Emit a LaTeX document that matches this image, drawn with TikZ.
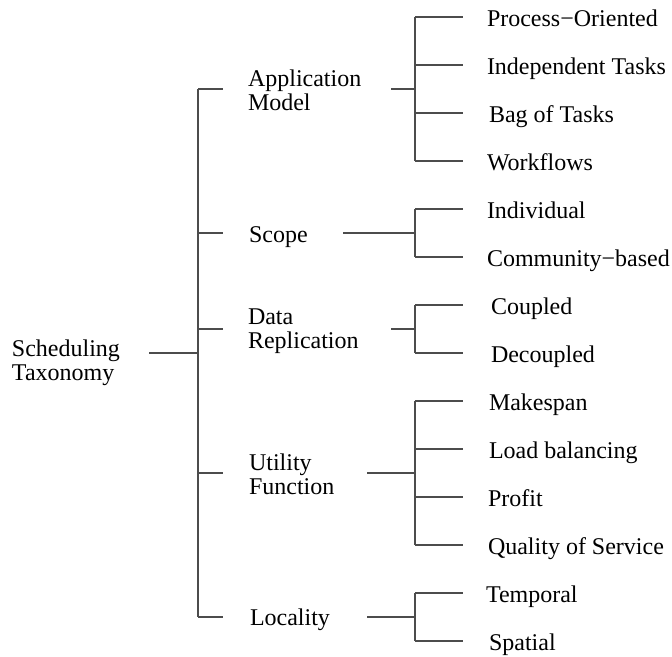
\documentclass[tikz,border=0pt]{standalone}
\usepackage{fontspec}
\setmainfont{Liberation Serif}
\begin{document}
\begin{tikzpicture}[x=1pt,y=-1pt,
  lbl/.style={anchor=base west,inner sep=0pt,outer sep=0pt,align=left,font=\fontsize{24}{24}\selectfont},
  link/.style={draw=black!70,line width=1.15pt}]
\useasboundingbox (0,0) rectangle (672,656);
% labels (base anchor = baseline of last line)
\node[lbl] (root) at (12,380) {Scheduling\\Taxonomy};
\node[lbl] (app) at (248,110) {Application\\Model};
\node[lbl] (scope) at (249,242) {Scope};
\node[lbl] (data) at (248,348) {Data\\Replication};
\node[lbl] (util) at (249,494) {Utility\\Function};
\node[lbl] (loc) at (250,625) {Locality};
\node[lbl] (a1) at (487,26) {Process−Oriented};
\node[lbl] (a2) at (487,74) {Independent Tasks};
\node[lbl] (a3) at (489,122) {Bag of Tasks};
\node[lbl] (a4) at (487,170) {Workflows};
\node[lbl] (s1) at (487,218) {Individual};
\node[lbl] (s2) at (487,266) {Community−based};
\node[lbl] (d1) at (491,314) {Coupled};
\node[lbl] (d2) at (491,362) {Decoupled};
\node[lbl] (u1) at (489,410) {Makespan};
\node[lbl] (u2) at (489,458) {Load balancing};
\node[lbl] (u3) at (488,506) {Profit};
\node[lbl] (u4) at (488,554) {Quality of Service};
\node[lbl] (l1) at (486,602) {Temporal};
\node[lbl] (l2) at (489,650) {Spatial};
% junction coordinates
\coordinate (r0) at (149,353);
\coordinate (r1) at (198,353);
\coordinate (top) at (198,89);
\coordinate (bot) at (198,617);
\foreach \n/\y in {app/89,scope/233,data/329,util/473,loc/617}{
  \coordinate (\n-in) at (198,\y);
  \coordinate (\n-stub) at (223,\y);
}
\coordinate (app-out) at (391,89);   \coordinate (app-j) at (415,89);
\coordinate (scope-out) at (343,233);\coordinate (scope-j) at (415,233);
\coordinate (data-out) at (391,329); \coordinate (data-j) at (415,329);
\coordinate (util-out) at (367,473); \coordinate (util-j) at (415,473);
\coordinate (loc-out) at (367,617);  \coordinate (loc-j) at (415,617);
\foreach \n/\y in {a1/17,a2/65,a3/113,a4/161,s1/209,s2/257,d1/305,d2/353,u1/401,u2/449,u3/497,u4/545,l1/593,l2/641}{
  \coordinate (\n-b) at (415,\y);
  \coordinate (\n-e) at (463,\y);
}
% connectors
\draw[link] (r0) -- (r1);
\draw[link] (top) -- (bot);
\foreach \n in {app,scope,data,util,loc}{
  \draw[link] (\n-in) -- (\n-stub);
  \draw[link] (\n-out) -- (\n-j);
}
\draw[link] (a1-b) -- (a4-b);
\draw[link] (s1-b) -- (s2-b);
\draw[link] (d1-b) -- (d2-b);
\draw[link] (u1-b) -- (u4-b);
\draw[link] (l1-b) -- (l2-b);
\foreach \n in {a1,a2,a3,a4,s1,s2,d1,d2,u1,u2,u3,u4,l1,l2}{
  \draw[link] (\n-b) -- (\n-e);
}
\end{tikzpicture}
\end{document}
